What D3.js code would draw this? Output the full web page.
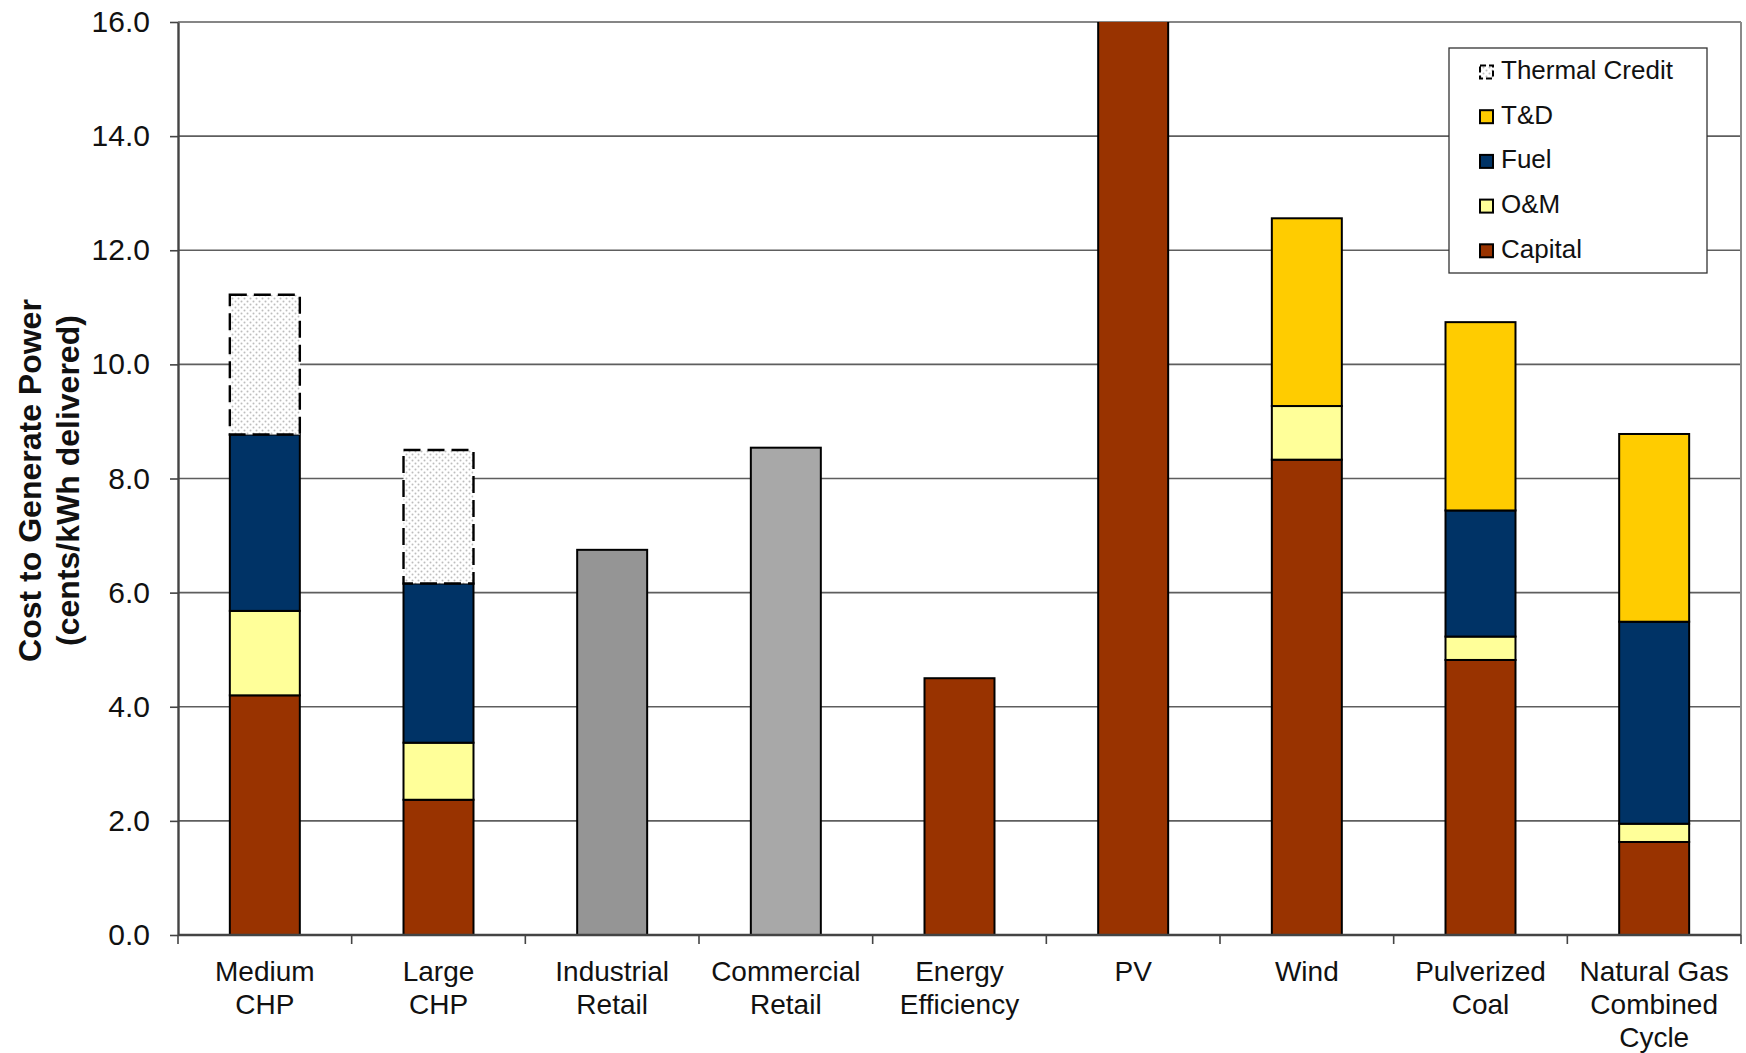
<!DOCTYPE html>
<html>
<head>
<meta charset="utf-8">
<script src="https://cdn.jsdelivr.net/npm/d3@7"></script>
<style>
  html, body { margin: 0; padding: 0; background: #fff; }
  svg { display: block; font-family: "Liberation Sans", Arial, sans-serif; }
</style>
</head>
<body>
<svg id="chart" width="1746" height="1053"></svg>
<script>
// Technology categories, each label split into its display lines
const categories = [
  ["Medium", "CHP"],
  ["Large", "CHP"],
  ["Industrial", "Retail"],
  ["Commercial", "Retail"],
  ["Energy", "Efficiency"],
  ["PV"],
  ["Wind"],
  ["Pulverized", "Coal"],
  ["Natural Gas", "Combined", "Cycle"]
];

// Cost components, cents/kWh delivered (PV capital runs past the 16.0 axis top)
const capital       = [4.20, 2.37, 0,    0,    4.50, 20.0, 8.33, 4.82, 1.63];
const retail        = [0,    0,    6.75, 8.54, 0,    0,    0,    0,    0];
const om            = [1.48, 1.00, 0,    0,    0,    0,    0.94, 0.41, 0.32];
const fuel          = [3.09, 2.79, 0,    0,    0,    0,    0,    2.21, 3.54];
const td            = [0,    0,    0,    0,    0,    0,    3.29, 3.30, 3.29];
const thermalCredit = [2.45, 2.34, 0,    0,    0,    0,    0,    0,    0];

const yTicks = [0, 2, 4, 6, 8, 10, 12, 14, 16];
const legendItems = ["Thermal Credit", "T&D", "Fuel", "O&M", "Capital"];

const colors = {
  capital: "#993300",
  om: "#FFFF99",
  fuel: "#003366",
  td: "#FFCC00"
};
const retailColors = ["none", "none", "#959595", "#A8A8A8", "none", "none", "none", "none", "none"];

const svg = d3.select("#chart");
const plot = { left: 178, right: 1741, top: 22, bottom: 935 };

const keys = categories.map(c => c.join(" "));
const x = d3.scaleBand()
  .domain(keys)
  .range([plot.left, plot.right])
  .paddingInner(0.597)
  .paddingOuter(0.2985);
const step = x.step();

const y = d3.scaleLinear().domain([0, 16]).range([plot.bottom, plot.top]);

// dotted fill for the thermal credit segments
const defs = svg.append("defs");
const pat = defs.append("pattern")
  .attr("id", "dots").attr("patternUnits", "userSpaceOnUse")
  .attr("width", 6).attr("height", 6);
pat.append("rect").attr("width", 6).attr("height", 6).attr("fill", "#fff");
pat.append("circle").attr("cx", 1.5).attr("cy", 1.5).attr("r", 1).attr("fill", "#bdbdbd");
pat.append("circle").attr("cx", 4.5).attr("cy", 4.5).attr("r", 1).attr("fill", "#bdbdbd");

defs.append("clipPath").attr("id", "plotClip")
  .append("rect")
  .attr("x", plot.left - 5).attr("y", plot.top)
  .attr("width", plot.right - plot.left + 10).attr("height", plot.bottom - plot.top + 5);

// horizontal gridlines
svg.append("g").selectAll("line")
  .data(yTicks.filter(d => d > 0))
  .join("line")
  .attr("x1", plot.left).attr("x2", plot.right)
  .attr("y1", d => y(d)).attr("y2", d => y(d))
  .attr("stroke", "#5e5e5e").attr("stroke-width", 1.6);

// right border of the plot area
svg.append("line")
  .attr("x1", plot.right).attr("x2", plot.right)
  .attr("y1", plot.top).attr("y2", plot.bottom)
  .attr("stroke", "#8a8a8a").attr("stroke-width", 2);

// stacked bars
const rows = keys.map((k, i) => ({
  key: k, i,
  capital: capital[i], retail: retail[i], om: om[i],
  fuel: fuel[i], td: td[i], thermal: thermalCredit[i]
}));
const stackKeys = ["capital", "retail", "om", "fuel", "td", "thermal"];
const series = d3.stack().keys(stackKeys)(rows);

const barsG = svg.append("g").attr("clip-path", "url(#plotClip)");
series.forEach(s => {
  barsG.append("g").selectAll("rect")
    .data(s.filter(d => d[1] - d[0] > 0))
    .join("rect")
    .attr("x", d => x(d.data.key))
    .attr("width", x.bandwidth())
    .attr("y", d => y(d[1]))
    .attr("height", d => y(d[0]) - y(d[1]))
    .attr("fill", d => s.key === "thermal" ? "url(#dots)"
                     : s.key === "retail" ? retailColors[d.data.i]
                     : colors[s.key])
    .attr("stroke", "#000")
    .attr("stroke-width", s.key === "thermal" ? 2.4 : 2)
    .attr("stroke-dasharray", s.key === "thermal" ? "17,7" : null);
});

// y axis
const yAxis = svg.append("g")
  .attr("transform", `translate(${plot.left},0)`)
  .call(d3.axisLeft(y).tickValues(yTicks).tickFormat(d3.format(".1f"))
    .tickSizeInner(8).tickSizeOuter(0).tickPadding(20));
yAxis.select(".domain").attr("stroke", "#444").attr("stroke-width", 2.4);
yAxis.selectAll(".tick line").attr("stroke", "#444").attr("stroke-width", 1.6);
yAxis.selectAll(".tick text")
  .attr("font-size", 30).attr("fill", "#111")
  .attr("font-family", "'Liberation Sans', Arial, sans-serif");

// x axis baseline and category boundary ticks
svg.append("line")
  .attr("x1", plot.left).attr("x2", plot.right)
  .attr("y1", plot.bottom).attr("y2", plot.bottom)
  .attr("stroke", "#444").attr("stroke-width", 2.4);
const bounds = keys.map(k => x(k) + x.bandwidth() / 2 - step / 2)
  .concat([x(keys[keys.length - 1]) + x.bandwidth() / 2 + step / 2]);
svg.append("g").selectAll("line")
  .data(bounds)
  .join("line")
  .attr("x1", d => d).attr("x2", d => d)
  .attr("y1", plot.bottom).attr("y2", plot.bottom + 9)
  .attr("stroke", "#444").attr("stroke-width", 1.6);

// category labels
const labels = svg.append("g")
  .attr("font-size", 28).attr("fill", "#111").attr("text-anchor", "middle");
categories.forEach((lines, i) => {
  const t = labels.append("text")
    .attr("x", x(keys[i]) + x.bandwidth() / 2)
    .attr("y", 981);
  lines.forEach((ln, j) => {
    t.append("tspan")
      .attr("x", x(keys[i]) + x.bandwidth() / 2)
      .attr("dy", j === 0 ? 0 : 33)
      .text(ln);
  });
});

// y axis title
const title = svg.append("g")
  .attr("transform", `translate(0,${(plot.top + plot.bottom) / 2 + 2}) rotate(-90)`)
  .attr("font-size", 32).attr("font-weight", "bold").attr("fill", "#111")
  .attr("text-anchor", "middle");
title.append("text").attr("x", 0).attr("y", 41).text("Cost to Generate Power");
title.append("text").attr("x", 0).attr("y", 79).text("(cents/kWh delivered)");

// legend
const legend = svg.append("g");
legend.append("rect")
  .attr("x", 1449).attr("y", 48).attr("width", 258).attr("height", 225)
  .attr("fill", "#fff").attr("stroke", "#333").attr("stroke-width", 1.3);
const legendFill = {
  "Thermal Credit": "url(#dots)",
  "T&D": colors.td,
  "Fuel": colors.fuel,
  "O&M": colors.om,
  "Capital": colors.capital
};
legendItems.forEach((name, i) => {
  const base = 79 + i * 44.7;
  legend.append("rect")
    .attr("x", 1480).attr("y", base - 13.5).attr("width", 13).attr("height", 13)
    .attr("fill", legendFill[name])
    .attr("stroke", "#000").attr("stroke-width", 2)
    .attr("stroke-dasharray", name === "Thermal Credit" ? "6,3" : null);
  legend.append("text")
    .attr("x", 1501).attr("y", base)
    .attr("font-size", 26).attr("fill", "#111")
    .text(name);
});
</script>
</body>
</html>
